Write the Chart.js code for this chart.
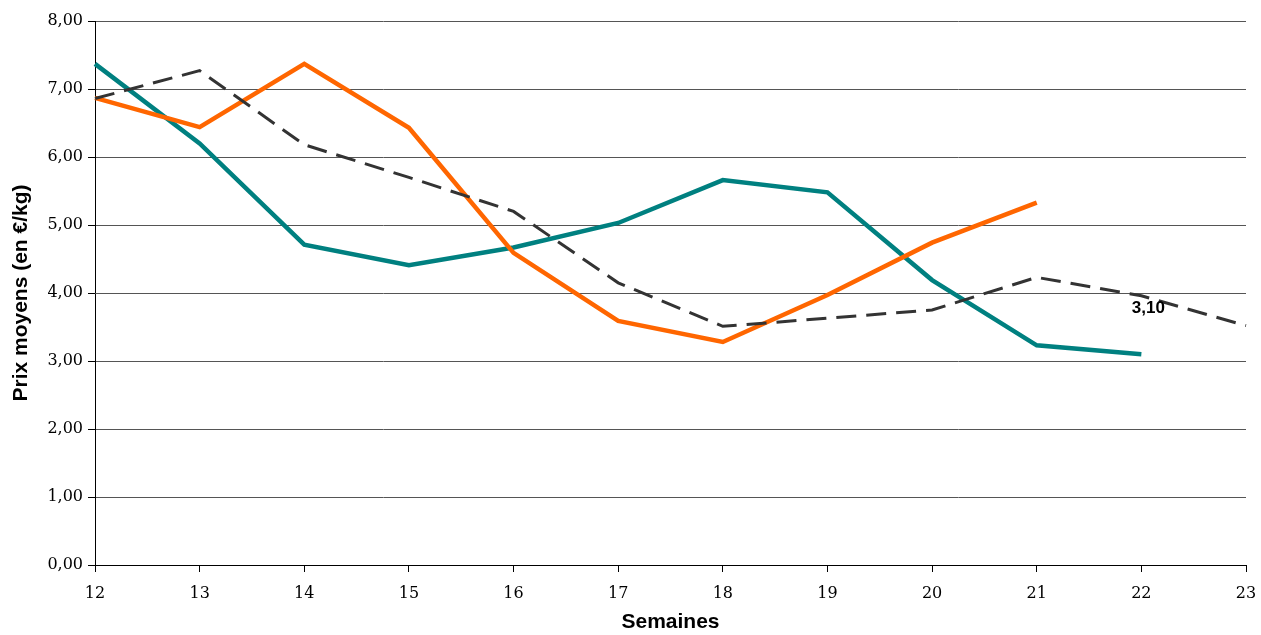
<!DOCTYPE html>
<html>
<head>
<meta charset="utf-8">
<script src="https://cdn.jsdelivr.net/npm/chart.js@4/dist/chart.umd.min.js"></script>
<style>
  html, body { margin: 0; padding: 0; background: #fff; }
  #wrap { width: 1261px; height: 635px; }
</style>
</head>
<body>
<div id="wrap"><canvas id="myChart" width="1261" height="635"></canvas></div>
<script>
// semaines
let semaines = ['12', '13', '14', '15', '16', '17', '18', '19', '20', '21', '22', '23'];
// series (prix moyens en €/kg)
let serieVerte = [7.37, 6.20, 4.71, 4.41, 4.67, 5.03, 5.66, 5.48, 4.19, 3.23, 3.10, null];
let serieOrange = [6.87, 6.44, 7.37, 6.43, 4.59, 3.59, 3.28, 3.97, 4.74, 5.33, null, null];
let serieMoyenne = [6.86, 7.27, 6.18, 5.70, 5.20, 4.15, 3.51, 3.63, 3.75, 4.23, 3.96, 3.52];
let yTicks = [0, 1, 2, 3, 4, 5, 6, 7, 8];

// etiquette "3,10" au dernier point de la serie verte
const labelPlugin = {
    id: 'lastLabel',
    afterDatasetsDraw(chart) {
        let ctx = chart.ctx;
        let i = 10;
        let x = chart.scales.x.getPixelForValue(i);
        let y = chart.scales.y.getPixelForValue(serieVerte[i]);
        ctx.save();
        ctx.font = 'bold 17px "Liberation Sans", Arial, sans-serif';
        ctx.fillStyle = '#000';
        ctx.textAlign = 'center';
        ctx.textBaseline = 'middle';
        ctx.fillText(serieVerte[i].toFixed(2).replace('.', ','), x + 7, y - 46);
        ctx.restore();
    }
};

let myChart = new Chart(document.getElementById('myChart'), {
    type: 'line',
    data: {
        labels: semaines,
        datasets: [
            {
                data: serieMoyenne,
                borderColor: '#333333',
                borderWidth: 3,
                borderDash: [20, 10],
                pointRadius: 0,
                tension: 0
            },
            {
                data: serieOrange,
                borderColor: '#FF6600',
                borderWidth: 4.5,
                pointRadius: 0,
                tension: 0
            },
            {
                data: serieVerte,
                borderColor: '#008080',
                borderWidth: 4.5,
                pointRadius: 0,
                tension: 0
            }
        ]
    },
    options: {
        responsive: false,
        animation: false,
        layout: { padding: { top: 21, right: 15, left: 9, bottom: 0 } },
        plugins: {
            legend: { display: false },
            tooltip: { enabled: false }
        },
        scales: {
            x: {
                offset: false,
                grid: { display: true, drawOnChartArea: false, drawTicks: true, tickLength: 7, color: '#000' },
                border: { color: '#000', width: 1 },
                ticks: {
                    color: '#000',
                    font: { family: '"DejaVu Serif", serif', size: 16 },
                    maxRotation: 0,
                    padding: 12
                },
                title: {
                    display: true,
                    text: 'Semaines',
                    color: '#000',
                    font: { family: '"Liberation Sans", Arial, sans-serif', size: 21, weight: 'bold' },
                    padding: { top: 7, bottom: 0 }
                },
                afterFit: (scale) => {
                    scale.height = 635 - 565;
                    scale.paddingLeft = 0;
                    scale.paddingRight = 0;
                }
            },
            y: {
                min: 0,
                max: 8,
                afterBuildTicks: (scale) => { scale.ticks = yTicks.map(v => ({ value: v })); },
                grid: { color: '#555', lineWidth: 1, tickLength: 7, tickColor: '#000' },
                border: { color: '#000', width: 1 },
                ticks: {
                    color: '#000',
                    font: { family: '"DejaVu Serif", serif', size: 16 },
                    padding: 5,
                    callback: (v) => v.toFixed(2).replace('.', ',')
                },
                title: {
                    display: true,
                    text: 'Prix moyens (en €/kg)',
                    color: '#000',
                    font: { family: '"Liberation Sans", Arial, sans-serif', size: 21, weight: 'bold' },
                    padding: { top: 0, bottom: 4 }
                },
                afterFit: (scale) => { scale.width = 95 - 9; }
            }
        }
    },
    plugins: [labelPlugin]
});
</script>
</body>
</html>
